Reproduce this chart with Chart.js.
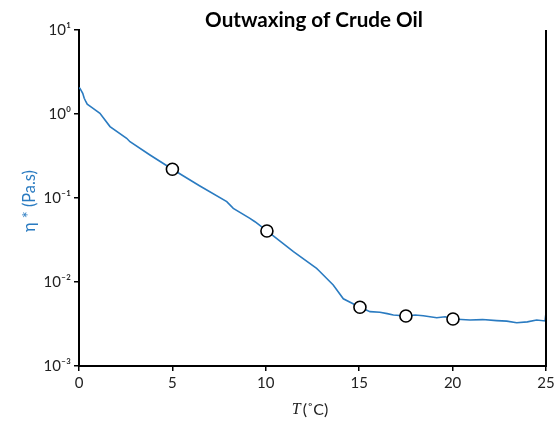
<!DOCTYPE html>
<html><head><meta charset="utf-8">
<script src="https://cdn.jsdelivr.net/npm/chart.js@4/dist/chart.umd.min.js"></script>
<style>html,body{margin:0;padding:0;background:#fff}#wrap{width:554px;height:422px}</style>
</head><body><div id="wrap"><canvas id="c" width="554" height="422"></canvas></div>
<script>
const temperatureC = [0.00,0.05,0.20,0.28,0.37,0.44,0.68,1.12,1.66,2.55,2.73,3.80,5.00,6.45,7.91,8.26,9.15,9.42,10.06,11.48,12.72,12.81,13.61,14.15,15.04,15.58,16.11,16.50,16.83,17.50,18.00,18.43,19.15,19.60,20.02,20.93,21.60,22.36,22.90,23.43,24.00,24.50,24.95,25.00];
const viscosity    = [2.05,2.02,1.76,1.54,1.40,1.31,1.20,1.02,0.708,0.514,0.468,0.325,0.220,0.140,0.0904,0.0753,0.0573,0.0522,0.0405,0.0230,0.01455,0.0139,0.0092,0.00631,0.00501,0.00444,0.00436,0.00420,0.00405,0.00394,0.00404,0.00397,0.00376,0.00385,0.00363,0.00353,0.00357,0.00347,0.00342,0.00327,0.00335,0.00353,0.00344,0.00431];
const markerT   = [5.0, 10.06, 15.04, 17.5, 20.02];
const markerEta = [0.220, 0.0405, 0.00501, 0.00394, 0.00363];
const xTickValues = [0,5,10,15,20,25];
const yTickValues = [0.001,0.01,0.1,1,10];
const yTickLabels = ['10⁻³','10⁻²','10⁻¹','10⁰','10¹'];
const chartTitle = 'Outwaxing of Crude Oil';
const yTitle = 'η * (Pa.s)';
const xTitleVar = 'T';
const xTitleUnit = '(˚C)';

const FONT = 'Lato, "DejaVu Sans", sans-serif';
const BLUE = '#2a7bc1';

function fitFont(ctx, style, family, text, target) {
  ctx.font = style + ' 20px ' + family;
  const w = ctx.measureText(text).width;
  return style + ' ' + (20 * target / w).toFixed(2) + 'px ' + family;
}

const textPlugin = {
  id: 'texts',
  afterDraw(chart) {
    const {ctx, chartArea: a} = chart;
    ctx.save();
    ctx.strokeStyle = '#000'; ctx.lineWidth = 2;
    ctx.beginPath(); ctx.moveTo(a.right, a.top); ctx.lineTo(a.right, a.bottom + 1); ctx.stroke();
    ctx.fillStyle = '#000';
    ctx.font = fitFont(ctx, 'bold', FONT, chartTitle, 218);
    ctx.textAlign = 'center'; ctx.textBaseline = 'middle';
    ctx.fillText(chartTitle, 314, 20);
    ctx.save();
    ctx.translate(30, 201);
    ctx.rotate(-Math.PI / 2);
    ctx.fillStyle = BLUE;
    ctx.font = fitFont(ctx, 'normal', FONT, yTitle, 62);
    ctx.fillText(yTitle, 0, 0);
    ctx.restore();
    ctx.fillStyle = '#222';
    const fVar = 'italic 16px "Liberation Serif", serif';
    const fUnit = '16px ' + FONT;
    ctx.font = fVar; const w1 = ctx.measureText(xTitleVar).width;
    ctx.font = fUnit; const w2 = ctx.measureText(xTitleUnit).width;
    const x0 = 310 - (w1 + w2 + 2) / 2;
    ctx.textAlign = 'left';
    ctx.font = fVar; ctx.fillText(xTitleVar, x0, 410);
    ctx.font = fUnit; ctx.fillText(xTitleUnit, x0 + w1 + 2, 410);
    ctx.restore();
  }
};

new Chart(document.getElementById('c'), {
  type: 'line',
  data: {
    datasets: [
      {
        type: 'scatter',
        data: markerT.map((t, i) => ({x: t, y: markerEta[i]})),
        pointRadius: 6, pointBorderWidth: 1.6,
        pointBackgroundColor: '#fff', pointBorderColor: '#000',
        showLine: false, order: 0
      },
      {
        data: temperatureC.map((t, i) => ({x: t, y: viscosity[i]})),
        borderColor: BLUE, borderWidth: 1.6,
        pointRadius: 0, tension: 0, fill: false, order: 1
      }
    ]
  },
  options: {
    responsive: false, devicePixelRatio: 1, animation: false,
    layout: {padding: {top: 30, right: 8, left: 0, bottom: 0}},
    plugins: {legend: {display: false}, tooltip: {enabled: false}, title: {display: false}},
    scales: {
      x: {
        type: 'linear', min: 0, max: 25,
        afterBuildTicks: s => { s.ticks = xTickValues.map(v => ({value: v})); },
        afterFit: s => { s.height = 56; s.paddingRight = 0; s.paddingLeft = 0; },
        grid: {display: true, drawOnChartArea: false, drawTicks: true, tickLength: 5, color: '#000', lineWidth: 1.5},
        border: {display: true, color: '#000', width: 2},
        ticks: {color: '#222', font: {family: FONT, size: 15}, padding: 3, maxRotation: 0}
      },
      y: {
        type: 'logarithmic', min: 0.001, max: 10,
        afterBuildTicks: s => { s.ticks = yTickValues.map(v => ({value: v})); },
        afterFit: s => { s.width = 79; },
        grid: {display: true, drawOnChartArea: false, drawTicks: true, tickLength: 5, color: '#000', lineWidth: 1.5},
        border: {display: true, color: '#000', width: 2},
        ticks: {
          color: '#222', font: {family: FONT, size: 15}, padding: 3,
          callback: (v) => {
            const i = yTickValues.findIndex(t => Math.abs(Math.log10(t) - Math.log10(v)) < 1e-6);
            return i >= 0 ? yTickLabels[i] : '';
          }
        }
      }
    }
  },
  plugins: [textPlugin]
});
</script></body></html>
